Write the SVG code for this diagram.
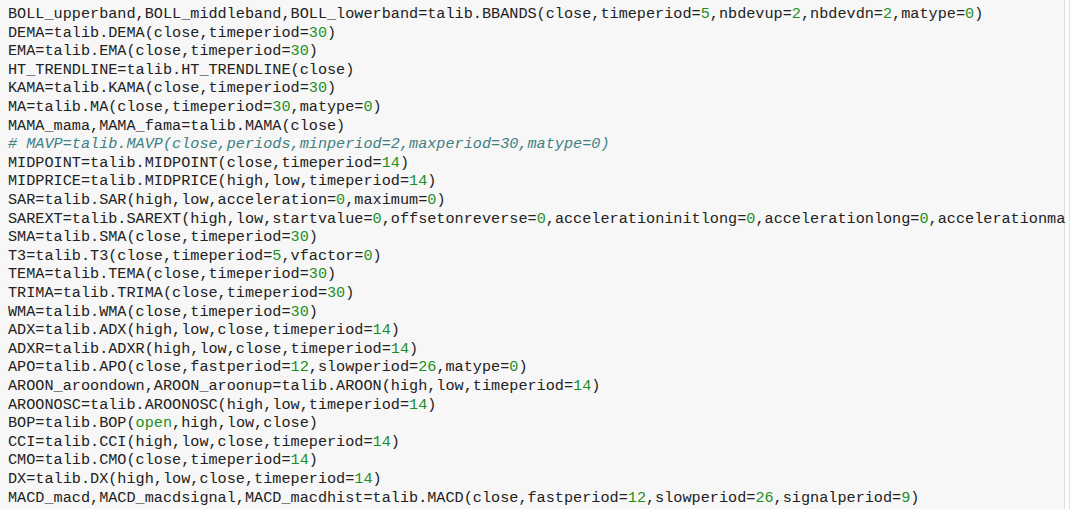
<svg xmlns="http://www.w3.org/2000/svg" width="1080" height="509" viewBox="0 0 1080 509">
<style>
text{font-family:"Liberation Mono","DejaVu Sans Mono",monospace;font-size:15.2px;fill:#222;white-space:pre}
.n{fill:#1e8f1e}
.c{fill:#408080;font-style:italic}
</style>
<rect x="0" y="0" width="1064" height="509" fill="#f7f7f7"/>
<line x1="1064.5" y1="0" x2="1064.5" y2="509" stroke="#dcdcdc"/>
<line x1="1069.5" y1="0" x2="1069.5" y2="509" stroke="#e0e0e0"/>
<g id="code">
<text x="8" y="18">BOLL_upperband,BOLL_middleband,BOLL_lowerband=talib.BBANDS(close,timeperiod=<tspan class="n">5</tspan>,nbdevup=<tspan class="n">2</tspan>,nbdevdn=<tspan class="n">2</tspan>,matype=<tspan class="n">0</tspan>)</text>
<text x="8" y="36.6">DEMA=talib.DEMA(close,timeperiod=<tspan class="n">30</tspan>)</text>
<text x="8" y="55.2">EMA=talib.EMA(close,timeperiod=<tspan class="n">30</tspan>)</text>
<text x="8" y="73.8">HT_TRENDLINE=talib.HT_TRENDLINE(close)</text>
<text x="8" y="92.4">KAMA=talib.KAMA(close,timeperiod=<tspan class="n">30</tspan>)</text>
<text x="8" y="111">MA=talib.MA(close,timeperiod=<tspan class="n">30</tspan>,matype=<tspan class="n">0</tspan>)</text>
<text x="8" y="129.6">MAMA_mama,MAMA_fama=talib.MAMA(close)</text>
<text x="8" y="148.2" class="c"># MAVP=talib.MAVP(close,periods,minperiod=2,maxperiod=30,matype=0)</text>
<text x="8" y="166.8">MIDPOINT=talib.MIDPOINT(close,timeperiod=<tspan class="n">14</tspan>)</text>
<text x="8" y="185.4">MIDPRICE=talib.MIDPRICE(high,low,timeperiod=<tspan class="n">14</tspan>)</text>
<text x="8" y="204">SAR=talib.SAR(high,low,acceleration=<tspan class="n">0</tspan>,maximum=<tspan class="n">0</tspan>)</text>
<text x="8" y="222.6">SAREXT=talib.SAREXT(high,low,startvalue=<tspan class="n">0</tspan>,offsetonreverse=<tspan class="n">0</tspan>,accelerationinitlong=<tspan class="n">0</tspan>,accelerationlong=<tspan class="n">0</tspan>,accelerationma</text>
<text x="8" y="241.2">SMA=talib.SMA(close,timeperiod=<tspan class="n">30</tspan>)</text>
<text x="8" y="259.8">T3=talib.T3(close,timeperiod=<tspan class="n">5</tspan>,vfactor=<tspan class="n">0</tspan>)</text>
<text x="8" y="278.4">TEMA=talib.TEMA(close,timeperiod=<tspan class="n">30</tspan>)</text>
<text x="8" y="297">TRIMA=talib.TRIMA(close,timeperiod=<tspan class="n">30</tspan>)</text>
<text x="8" y="315.6">WMA=talib.WMA(close,timeperiod=<tspan class="n">30</tspan>)</text>
<text x="8" y="334.2">ADX=talib.ADX(high,low,close,timeperiod=<tspan class="n">14</tspan>)</text>
<text x="8" y="352.8">ADXR=talib.ADXR(high,low,close,timeperiod=<tspan class="n">14</tspan>)</text>
<text x="8" y="371.4">APO=talib.APO(close,fastperiod=<tspan class="n">12</tspan>,slowperiod=<tspan class="n">26</tspan>,matype=<tspan class="n">0</tspan>)</text>
<text x="8" y="390">AROON_aroondown,AROON_aroonup=talib.AROON(high,low,timeperiod=<tspan class="n">14</tspan>)</text>
<text x="8" y="408.6">AROONOSC=talib.AROONOSC(high,low,timeperiod=<tspan class="n">14</tspan>)</text>
<text x="8" y="427.2">BOP=talib.BOP(<tspan class="n">open</tspan>,high,low,close)</text>
<text x="8" y="445.8">CCI=talib.CCI(high,low,close,timeperiod=<tspan class="n">14</tspan>)</text>
<text x="8" y="464.4">CMO=talib.CMO(close,timeperiod=<tspan class="n">14</tspan>)</text>
<text x="8" y="483">DX=talib.DX(high,low,close,timeperiod=<tspan class="n">14</tspan>)</text>
<text x="8" y="501.6">MACD_macd,MACD_macdsignal,MACD_macdhist=talib.MACD(close,fastperiod=<tspan class="n">12</tspan>,slowperiod=<tspan class="n">26</tspan>,signalperiod=<tspan class="n">9</tspan>)</text>
</g>
</svg>
